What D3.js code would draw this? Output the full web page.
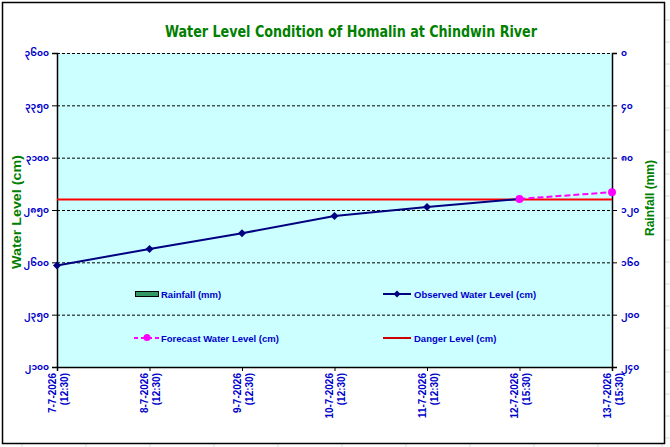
<!DOCTYPE html>
<html>
<head>
<meta charset="utf-8">
<script src="https://cdn.jsdelivr.net/npm/d3@7"></script>
<style>
html,body{margin:0;padding:0;background:#fff;}
svg{display:block;}
</style>
</head>
<body>
<svg id="c" width="670" height="447"></svg>
<script>
// ---- data ----
const categories = ["7-7-2026|(12:30)","8-7-2026|(12:30)","9-7-2026|(12:30)","10-7-2026|(12:30)","11-7-2026|(12:30)","12-7-2026|(15:30)","13-7-2026|(15:30)"];
const observed = [2585, 2664, 2739, 2821, 2864, 2903, null];
const forecast = [null, null, null, null, null, 2903, 2935];
const rainfall = [0, 0, 0, 0, 0, 0, 0];
const dangerLevel = 2900;
const leftTicks = [2100, 2350, 2600, 2850, 3100, 3350, 3600];
const rightTicks = [0, 40, 80, 120, 160, 200, 240];
const myDigits = ["၀","၁","၂","၃","၄","၅","၆","၇","၈","၉"];
const toMy = n => String(n).split("").map(d => myDigits[+d]).join("");

const svg = d3.select("#c");
const W = 670, H = 447;
const m = {l:57, r:612, t:53, b:367};

// outside sheet grid
const g0 = svg.append("g");
for (let y = 20; y < H; y += 22) g0.append("line").attr("x1",665).attr("x2",W).attr("y1",y).attr("y2",y).attr("stroke","#dcdcdc");
for (let x = 22; x < W; x += 64) g0.append("line").attr("x1",x).attr("x2",x).attr("y1",444).attr("y2",H).attr("stroke","#dcdcdc");

// chart area
svg.append("rect").attr("x",2.5).attr("y",2.5).attr("width",662).attr("height",441)
  .attr("fill","#fff").attr("stroke","#000").attr("stroke-width",1.5);

const x = d3.scalePoint().domain(categories).range([m.l, m.r]).padding(0);
const y = d3.scaleLinear().domain([2100, 3600]).range([m.b, m.t]);
const y2 = d3.scaleLinear().domain([0, 240]).range([m.t, m.b]);

// plot background
svg.append("rect").attr("x",m.l).attr("y",m.t).attr("width",m.r-m.l).attr("height",m.b-m.t).attr("fill","#CCFFFF");

// gridlines
svg.append("g").selectAll("line").data(leftTicks.slice(1)).join("line")
  .attr("x1",m.l).attr("x2",m.r).attr("y1",d=>y(d)+0.5).attr("y2",d=>y(d)+0.5)
  .attr("stroke","#000").attr("stroke-width",1).attr("stroke-dasharray","3,2");

// rainfall bars (hang from top)
const bw = 20;
svg.append("g").selectAll("rect").data(rainfall).join("rect")
  .attr("x",(d,i)=>x(categories[i])-bw/2).attr("y",m.t).attr("width",bw)
  .attr("height",d=>y2(d)-m.t).attr("fill","#339966").attr("stroke",d=>d>0?"#000":"none");

// axes
const fontTick = "bold 9px 'Noto Sans Myanmar','Padauk','Myanmar Text',sans-serif";
const axL = svg.append("g").attr("transform",`translate(${m.l},0)`)
  .call(d3.axisLeft(y).tickValues(leftTicks).tickSize(5).tickPadding(3).tickFormat(toMy));
const axR = svg.append("g").attr("transform",`translate(${m.r},0)`)
  .call(d3.axisRight(y2).tickValues(rightTicks).tickSize(5).tickPadding(4).tickFormat(toMy));
const axB = svg.append("g").attr("transform",`translate(0,${m.b})`)
  .call(d3.axisBottom(x).tickSize(4).tickFormat(""));
[axL, axR, axB].forEach(a => {
  a.select(".domain").attr("stroke","#000").attr("stroke-width",1.5);
  a.selectAll(".tick line").attr("stroke","#000");
});
[axL, axR].forEach(a => a.selectAll(".tick text").attr("fill","#0000CC").style("font",fontTick));
// top dashed border
svg.append("line").attr("x1",m.l).attr("x2",m.r).attr("y1",m.t+0.5).attr("y2",m.t+0.5)
  .attr("stroke","#000").attr("stroke-dasharray","3,2");

// x labels
axB.selectAll(".tick").each(function(d){
  const parts = d.split("|");
  const t = d3.select(this).append("text")
    .attr("transform","translate(0,6) rotate(-90)")
    .attr("text-anchor","end").attr("fill","#0000CC")
    .style("font","bold 10px 'Liberation Sans',Arial,sans-serif");
  t.append("tspan").attr("x",0).attr("y",-2).text(parts[0]);
  t.append("tspan").attr("x",0).attr("y",10).text(parts[1]);
});

// danger line
svg.append("line").attr("x1",m.l).attr("x2",m.r).attr("y1",y(dangerLevel)).attr("y2",y(dangerLevel))
  .attr("stroke","#FF0000").attr("stroke-width",2);

// observed
const diamond = "M0,-4L4,0L0,4L-4,0Z";
const obsPts = observed.map((v,i)=>({v,c:categories[i]})).filter(d=>d.v!=null);
svg.append("path").datum(obsPts)
  .attr("d", d3.line().x(d=>x(d.c)).y(d=>y(d.v)))
  .attr("fill","none").attr("stroke","#000080").attr("stroke-width",2);
svg.append("g").selectAll("path").data(obsPts).join("path")
  .attr("transform",d=>`translate(${x(d.c)},${y(d.v)})`)
  .attr("d", diamond).attr("fill","#000080");

// forecast
const fcPts = forecast.map((v,i)=>({v,c:categories[i]})).filter(d=>d.v!=null);
svg.append("path").datum(fcPts)
  .attr("d", d3.line().x(d=>x(d.c)).y(d=>y(d.v)))
  .attr("fill","none").attr("stroke","#FF00FF").attr("stroke-width",2).attr("stroke-dasharray","6,3");
svg.append("g").selectAll("circle").data(fcPts).join("circle")
  .attr("cx",d=>x(d.c)).attr("cy",d=>y(d.v)).attr("r",4).attr("fill","#FF00FF");

// legend
const lf = "bold 9.5px 'Liberation Sans',Arial,sans-serif";
const leg = svg.append("g");
leg.append("rect").attr("x",135.5).attr("y",291.5).attr("width",23).attr("height",5).attr("fill","#339966").attr("stroke","#000");
leg.append("text").attr("x",161).attr("y",297.5).attr("fill","#0000CC").style("font",lf).text("Rainfall (mm)");
leg.append("line").attr("x1",383).attr("x2",411).attr("y1",294).attr("y2",294).attr("stroke","#000080").attr("stroke-width",2);
leg.append("path").attr("transform","translate(397,294)").attr("d","M0,-3.5L3.5,0L0,3.5L-3.5,0Z").attr("fill","#000080");
leg.append("text").attr("x",414).attr("y",297.5).attr("fill","#0000CC").style("font",lf).text("Observed Water Level (cm)");
leg.append("line").attr("x1",134).attr("x2",160).attr("y1",338).attr("y2",338).attr("stroke","#FF00FF").attr("stroke-width",2).attr("stroke-dasharray","4,3");
leg.append("circle").attr("cx",147).attr("cy",337.5).attr("r",3.5).attr("fill","#FF00FF");
leg.append("text").attr("x",161).attr("y",341.5).attr("fill","#0000CC").style("font",lf).text("Forecast Water Level (cm)");
leg.append("line").attr("x1",383).attr("x2",411).attr("y1",338).attr("y2",338).attr("stroke","#CC0000").attr("stroke-width",2);
leg.append("text").attr("x",414).attr("y",341.5).attr("fill","#0000CC").style("font",lf).text("Danger Level (cm)");

// title
svg.append("text").attr("x",351).attr("y",37).attr("text-anchor","middle").attr("fill","#008000")
  .attr("textLength",372).attr("lengthAdjust","spacingAndGlyphs")
  .style("font","bold 16px 'DejaVu Sans Condensed','DejaVu Sans',sans-serif")
  .text("Water Level Condition of Homalin at Chindwin River");

// axis titles
svg.append("text").attr("transform","translate(21,212) rotate(-90)").attr("text-anchor","middle")
  .attr("fill","#008000").attr("textLength",114).attr("lengthAdjust","spacingAndGlyphs")
  .style("font","bold 12px 'Liberation Sans',Arial,sans-serif").text("Water Level (cm)");
svg.append("text").attr("transform","translate(654,198) rotate(-90)").attr("text-anchor","middle")
  .attr("fill","#008000").attr("textLength",76).attr("lengthAdjust","spacingAndGlyphs")
  .style("font","bold 12px 'Liberation Sans',Arial,sans-serif").text("Rainfall (mm)");
</script>
</body>
</html>
